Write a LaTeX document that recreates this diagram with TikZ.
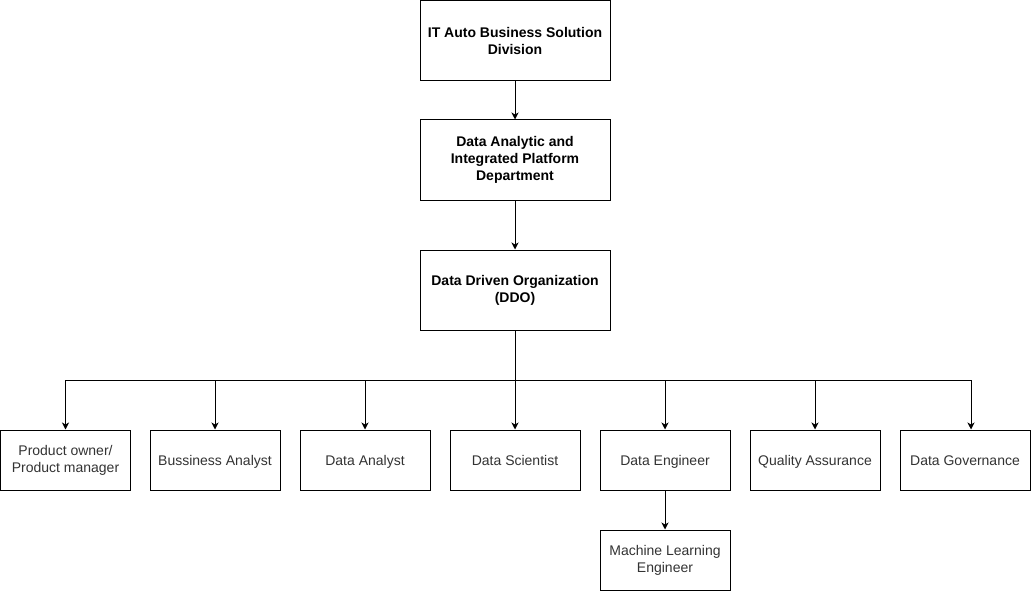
\documentclass[tikz,border=0pt]{standalone}
\usepackage{fontspec}
\setmainfont{Liberation Sans}
\usetikzlibrary{arrows.meta}
\begin{document}
\begin{tikzpicture}[x=1pt,y=-1pt,
  box/.style={draw=black,line width=1pt,fill=white,inner sep=0pt,align=center,font=\fontsize{14}{17}\selectfont,text=black!80},
  topbox/.style={box,minimum width=190pt,minimum height=80pt,font=\bfseries\fontsize{14}{17}\selectfont,text=black},
  rolebox/.style={box,minimum width=130pt,minimum height=60pt},
  oneline/.style={text height=14pt,text depth=3pt},
  conn/.style={line width=1pt,-{Stealth[length=7pt,width=7pt,inset=2pt]}}]
\useasboundingbox (0,0) rectangle (1031,591);
\node[topbox] (div) at (515,40.5) {IT Auto Business Solution\\Division};
\node[topbox] (dept) at (515,160) {Data Analytic and\\Integrated Platform\\Department};
\node[topbox] (ddo) at (515,290) {Data Driven Organization\\(DDO)};
\node[rolebox] (po) at (65.5,460) {Product owner/\\Product manager};
\node[rolebox,oneline] (ba) at (215,460) {Bussiness Analyst};
\node[rolebox,oneline] (da) at (365,460) {Data Analyst};
\node[rolebox,oneline] (ds) at (515,460) {Data Scientist};
\node[rolebox,oneline] (de) at (665,460) {Data Engineer};
\node[rolebox,oneline] (qa) at (815,460) {Quality Assurance};
\node[rolebox,oneline] (dg) at (965,460) {Data Governance};
\node[rolebox] (ml) at (665,560) {Machine Learning\\Engineer};
\coordinate (bus) at (515,380);
\draw[conn] (div) -- (dept);
\draw[conn] (dept) -- (ddo);
\draw[conn] (ddo.south) -- (ds.north);
\draw[conn] (bus) -| (po.north);
\draw[conn] (bus) -| (ba.north);
\draw[conn] (bus) -| (da.north);
\draw[conn] (bus) -| (de.north);
\draw[conn] (bus) -| (qa.north);
\draw[conn] (bus) -| ([xshift=6pt]dg.north);
\draw[conn] (de) -- (ml);
\end{tikzpicture}
\end{document}
